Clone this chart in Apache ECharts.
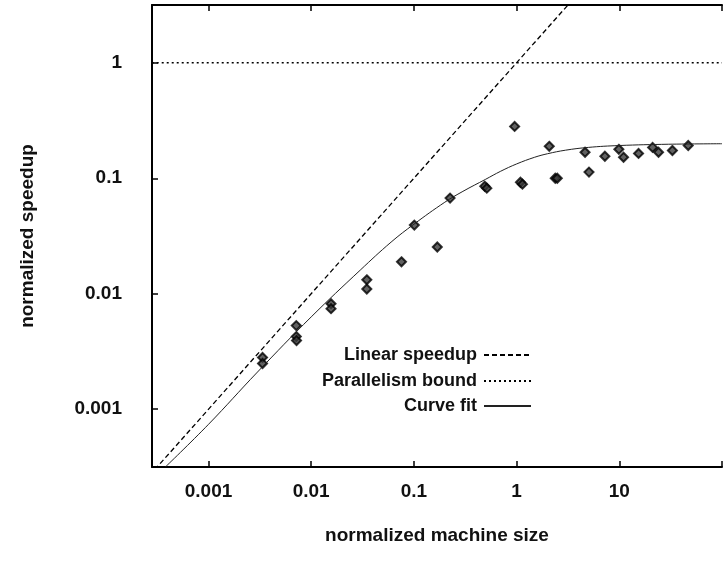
<!DOCTYPE html>
<html><head><meta charset="utf-8">
<script src="https://cdn.jsdelivr.net/npm/echarts@6/dist/echarts.min.js"></script>
<style>html,body{margin:0;padding:0;background:#fff}#c{width:725px;height:561px}</style>
</head><body><div id="c"></div>
<script>
// tick labels
const xTickValues = [0.001, 0.01, 0.1, 1, 10];
const xTickLabels = ['0.001', '0.01', '0.1', '1', '10'];
const yTickValues = [0.001, 0.01, 0.1, 1];
const yTickLabels = ['0.001', '0.01', '0.1', '1'];

// measured points
const machineSize = [0.00336, 0.00336, 0.00716, 0.00716, 0.0072, 0.0156, 0.0156, 0.0348, 0.0348,
  0.0757, 0.101, 0.169, 0.225, 0.49, 0.513, 0.957, 1.09, 1.14, 2.08, 2.38, 2.49,
  4.64, 5.07, 7.24, 9.9, 11.0, 15.4, 21.1, 24.1, 32.9, 46.9];
const speedup = [0.00281, 0.00249, 0.0053, 0.00426, 0.00394, 0.0082, 0.00743, 0.0132, 0.0110,
  0.0189, 0.0393, 0.0254, 0.0673, 0.0853, 0.082, 0.281, 0.0924, 0.0888, 0.189, 0.1, 0.1,
  0.168, 0.113, 0.155, 0.178, 0.152, 0.164, 0.185, 0.168, 0.174, 0.192];

// curve fit
const fitX = [0.00038, 0.001, 0.003, 0.01, 0.03, 0.06, 0.1, 0.2, 0.3, 0.5, 0.7, 1, 1.5, 2, 3, 5, 10, 30, 100];
const fitY = [0.000316, 0.00074, 0.0021, 0.0063, 0.016, 0.028, 0.04, 0.062, 0.077, 0.098, 0.115, 0.133, 0.152, 0.163, 0.175, 0.185, 0.192, 0.197, 0.199];

// reference lines
const linearX = [0.0003, 100];
const linearY = [0.0003, 100];
const boundX = [0.0002, 100];
const boundY = [1, 1];

const zip = (a, b) => a.map((v, i) => [v, b[i]]);
function fmt(values, labels) {
  return function (v) {
    for (let i = 0; i < values.length; i++) {
      if (Math.abs(Math.log10(v / values[i])) < 1e-6) return labels[i];
    }
    return '';
  };
}

const FONT = '"Liberation Sans", Arial, sans-serif';
const TXT = {fontFamily: FONT, fontSize: 19, fontWeight: 'bold', color: '#111'};
const chart = echarts.init(document.getElementById('c'), null, {renderer: 'canvas'});
const axisLine = {show: true, lineStyle: {color: '#000', width: 2}};
const tick = {show: true, inside: true, length: 6, lineStyle: {color: '#000', width: 1.5}};
const legendCommon = {
  orient: 'horizontal', align: 'right', itemWidth: 47, itemHeight: 12, itemGap: 0,
  itemStyle: {opacity: 0, borderWidth: 0},
  textStyle: {fontFamily: FONT, fontSize: 18, fontWeight: 'bold', color: '#111', padding: [0, 2, 0, 0]},
  right: 188, selectedMode: false
};
const XMIN = Math.pow(10, -3.55);
chart.setOption({
  animation: false,
  backgroundColor: '#fff',
  grid: {left: 152, top: 5, right: -2, bottom: 94, containLabel: false},
  legend: [
    Object.assign({data: ['Linear speedup'], top: 341}, legendCommon),
    Object.assign({data: ['Parallelism bound'], top: 367}, legendCommon),
    Object.assign({data: ['Curve fit'], top: 392}, legendCommon)
  ],
  xAxis: [{
    type: 'log', logBase: 10, min: XMIN, max: 100,
    position: 'bottom',
    name: 'normalized machine size', nameLocation: 'middle', nameGap: 59,
    nameTextStyle: TXT,
    axisLine: axisLine, axisTick: tick,
    axisLabel: Object.assign({formatter: fmt(xTickValues, xTickLabels), margin: 15}, TXT),
    splitLine: {show: false}, minorTick: {show: false}
  }, {
    type: 'log', logBase: 10, min: XMIN, max: 100,
    position: 'top',
    axisLine: axisLine, axisTick: tick,
    axisLabel: {show: false},
    splitLine: {show: false}
  }],
  yAxis: [{
    type: 'log', logBase: 10, min: Math.pow(10, -3.5), max: Math.pow(10, 0.5),
    name: 'normalized speedup', nameLocation: 'middle', nameGap: 115, nameRotate: 90,
    nameTextStyle: TXT,
    axisLine: axisLine, axisTick: tick,
    axisLabel: Object.assign({formatter: fmt(yTickValues, yTickLabels), margin: 30}, TXT),
    splitLine: {show: false}
  }],
  series: [
    {
      name: 'Linear speedup', type: 'line', data: zip(linearX, linearY), symbol: 'none',
      lineStyle: {color: '#000', width: 1.3, type: [5, 3]}, itemStyle: {color: '#000'}
    },
    {
      name: 'Parallelism bound', type: 'line', data: zip(boundX, boundY), symbol: 'none',
      lineStyle: {color: '#000', width: 1.3, type: [2, 3]}, itemStyle: {color: '#000'}
    },
    {
      name: 'Curve fit', type: 'line', data: zip(fitX, fitY), symbol: 'none', smooth: 0.4,
      lineStyle: {color: '#222', width: 1}, itemStyle: {color: '#222'}
    },
    {
      name: 'data', type: 'scatter', data: zip(machineSize, speedup), symbol: 'diamond', symbolSize: 9,
      itemStyle: {color: '#3a3a3a', borderColor: '#000', borderWidth: 2}
    }
  ]
});
</script></body></html>
